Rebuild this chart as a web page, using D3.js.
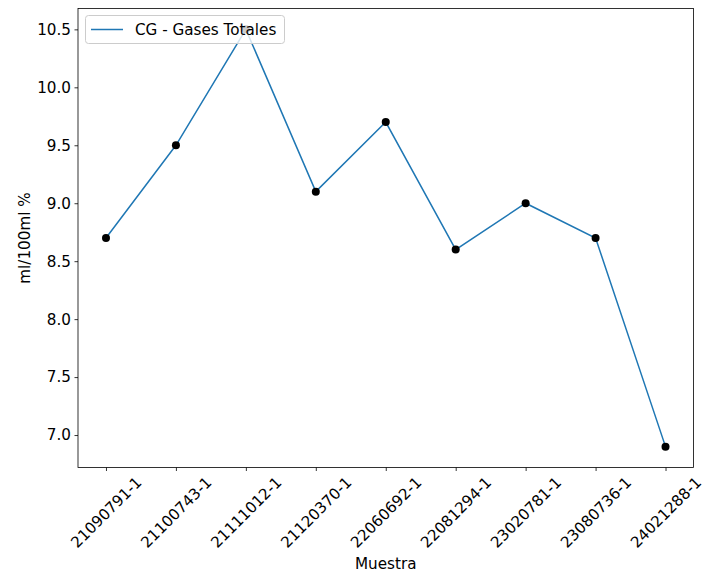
<!DOCTYPE html>
<html><head><meta charset="utf-8">
<script src="https://cdn.jsdelivr.net/npm/d3@7"></script>
<style>body{margin:0;background:#fff}svg{display:block}text{font-family:"DejaVu Sans",sans-serif;fill:#000}</style>
</head><body><svg id="c" width="718" height="577"></svg>
<script>
const categories = ["21090791-1","21100743-1","21111012-1","21120370-1","22060692-1","22081294-1","23020781-1","23080736-1","24021288-1"];
const values = [8.7, 9.5, 10.5, 9.1, 9.7, 8.6, 9.0, 8.7, 6.9];
const yTicks = [7.0, 7.5, 8.0, 8.5, 9.0, 9.5, 10.0, 10.5];
const seriesName = "CG - Gases Totales";
const xLabel = "Muestra", yLabel = "ml/100ml %";

const svg = d3.select("#c");
const L = 78, R = 693.5, T = 8.5, B = 467.5;
const FS = 15.2;
const n = categories.length;
const x = d3.scaleLinear().domain([-0.4, n - 1 + 0.4]).range([L, R]);
const yMin = d3.min(values), yMax = d3.max(values), m = (yMax - yMin) * 0.05;
const y = d3.scaleLinear().domain([yMin - m, yMax + m]).range([B, T]);

// Y axis
const ya = svg.append("g").attr("transform", `translate(${L},0)`)
  .call(d3.axisLeft(y).tickValues(yTicks).tickFormat(d3.format(".1f")).tickSize(3.5).tickPadding(3.5));
ya.select(".domain").remove();
ya.selectAll("line").attr("stroke", "#000").attr("stroke-width", 0.8);
ya.selectAll("text").style("font-size", FS + "px");

// X axis
const xa = svg.append("g").attr("transform", `translate(0,${B})`)
  .call(d3.axisBottom(x).tickValues(d3.range(n)).tickFormat(i => categories[i]).tickSize(3.5));
xa.select(".domain").remove();
xa.selectAll("line").attr("stroke", "#000").attr("stroke-width", 0.8);
xa.selectAll("text").style("font-size", FS + "px").attr("dy", null).attr("y", null)
  .attr("text-anchor", "middle").attr("dominant-baseline", "central")
  .each(function () {
    const w = this.getComputedTextLength();
    const h = FS * 1.0;
    const bh = (w + h) * Math.SQRT1_2;
    const cy = 3.5 + 3.5 + bh / 2;
    d3.select(this).attr("transform", `translate(0,${cy}) rotate(-45)`);
  });

// line
svg.append("path").datum(values)
  .attr("d", d3.line().x((d, i) => x(i)).y(d => y(d)))
  .attr("fill", "none").attr("stroke", "#1f77b4").attr("stroke-width", 1.5);
svg.append("g").selectAll("circle").data(values).join("circle")
  .attr("cx", (d, i) => x(i)).attr("cy", d => y(d)).attr("r", 4).attr("fill", "#000");

// frame
svg.append("rect").attr("x", L).attr("y", T).attr("width", R - L).attr("height", B - T)
  .attr("fill", "none").attr("stroke", "#000").attr("stroke-width", 0.8);

// labels
svg.append("text").attr("x", (L + R) / 2).attr("y", 568.5).attr("text-anchor", "middle")
  .style("font-size", FS + "px").text(xLabel);
svg.append("text").attr("transform", `translate(30,${(T + B) / 2}) rotate(-90)`).attr("text-anchor", "middle")
  .style("font-size", FS + "px").text(yLabel);

// legend
const lg = svg.append("g");
lg.append("rect").attr("x", 85.5).attr("y", 15.5).attr("width", 199).attr("height", 28).attr("rx", 3)
  .attr("fill", "#fff").attr("fill-opacity", 0.8).attr("stroke", "#ccc").attr("stroke-width", 1);
lg.append("line").attr("x1", 91).attr("x2", 123).attr("y1", 29.5).attr("y2", 29.5)
  .attr("stroke", "#1f77b4").attr("stroke-width", 1.5);
lg.append("text").attr("x", 135).attr("y", 29.5).attr("dominant-baseline", "central")
  .style("font-size", FS + "px").text(seriesName);
</script></body></html>
